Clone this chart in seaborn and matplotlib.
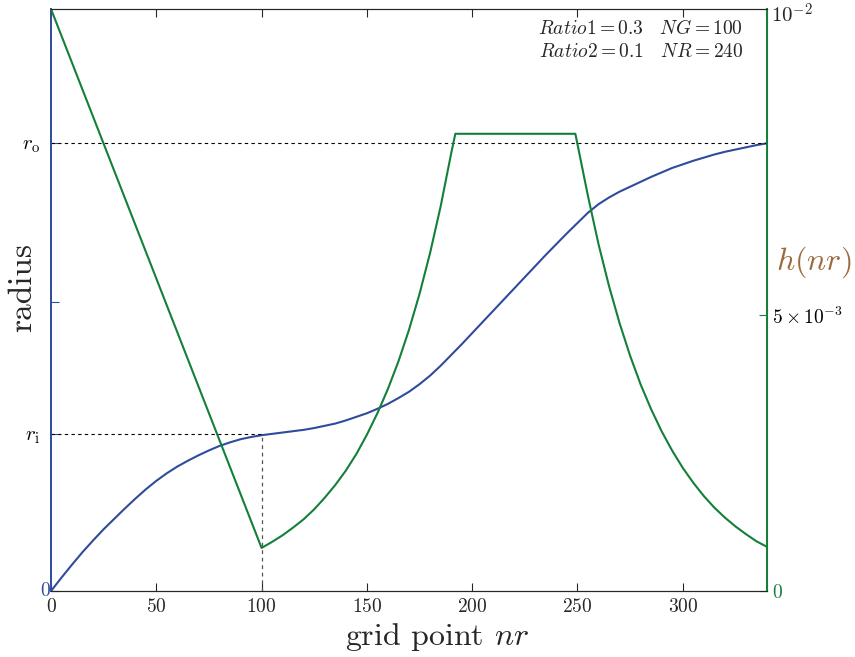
import numpy as np
import pandas as pd
import matplotlib
matplotlib.use("Agg")
import matplotlib.pyplot as plt
import seaborn as sns

# radius of grid point nr (r_o = 1)
nr_r = list(range(0, 341, 5))
radius = [0.000, 0.030, 0.059, 0.087, 0.113, 0.138, 0.161, 0.184, 0.206, 0.227,
          0.246, 0.263, 0.278, 0.291, 0.303, 0.314, 0.324, 0.332, 0.339, 0.344,
          0.348, 0.351, 0.354, 0.357, 0.360, 0.364, 0.369, 0.374, 0.381, 0.389,
          0.397, 0.407, 0.418, 0.431, 0.445, 0.462, 0.481, 0.503, 0.527, 0.551,
          0.576, 0.601, 0.626, 0.651, 0.676, 0.701, 0.726, 0.751, 0.775, 0.799,
          0.822, 0.845, 0.864, 0.879, 0.892, 0.903, 0.914, 0.925, 0.935, 0.945,
          0.953, 0.961, 0.968, 0.975, 0.981, 0.986, 0.991, 0.996, 1.000]

# step size h(nr)
nr_h = [0, 100, 105, 110, 115, 120, 125, 130, 135, 140, 145, 150, 155, 160,
        165, 170, 175, 180, 185, 190, 192, 249, 255, 260, 265, 270, 275, 280,
        285, 290, 295, 300, 305, 310, 315, 320, 325, 330, 335, 340]
h = [10.54e-3, 0.78e-3, 0.89e-3, 1.01e-3, 1.15e-3, 1.30e-3, 1.48e-3, 1.69e-3,
     1.92e-3, 2.18e-3, 2.48e-3, 2.83e-3, 3.22e-3, 3.66e-3, 4.16e-3, 4.73e-3,
     5.38e-3, 6.12e-3, 6.96e-3, 7.92e-3, 8.28e-3, 8.28e-3, 7.15e-3, 6.28e-3,
     5.52e-3, 4.85e-3, 4.26e-3, 3.74e-3, 3.29e-3, 2.89e-3, 2.54e-3, 2.23e-3,
     1.96e-3, 1.72e-3, 1.51e-3, 1.33e-3, 1.17e-3, 1.03e-3, 0.90e-3, 0.80e-3]

r_i, r_o = 0.35, 1.0
NR, NG = 240, 100

blue = "#2f4b9c"
green = "#13803a"
brown = "#9c6b3c"

sns.set_style("ticks")
plt.rcParams["font.family"] = ["cmr10", "DejaVu Serif"]
plt.rcParams["mathtext.fontset"] = "cm"
plt.rcParams["axes.unicode_minus"] = False
plt.rcParams["axes.formatter.use_mathtext"] = True

df_r = pd.DataFrame({"nr": nr_r, "radius": radius})
df_h = pd.DataFrame({"nr": nr_h, "h": h})

fig = plt.figure(figsize=(8.55, 6.57), dpi=100)
ax = fig.add_axes([51/855, 1-591/657, 716/855, 582/657])

sns.lineplot(data=df_r, x="nr", y="radius", ax=ax, color=blue, lw=1.5)
ax.plot([0, NR+NG], [r_o, r_o], ls="--", color="k", lw=0.8, dashes=(3, 3))
ax.plot([0, NG], [r_i, r_i], ls="--", color="k", lw=0.8, dashes=(3, 3))
ax.plot([NG, NG], [0, r_i], ls="--", color="#555555", lw=0.9, dashes=(3, 3))

ax.set_xlim(0, NR+NG)
ax.set_ylim(0, 1.3)
ax.set_xticks(range(0, 301, 50))
ax.set_yticks([0, r_i, 0.645, r_o])
ax.set_yticklabels(["", r"$r_\mathrm{i}$", "", r"$r_\mathrm{o}$"])
ax.tick_params(direction="in", length=6, width=0.8, top=True)
ax.tick_params(axis="x", labelsize=14, pad=5)
ax.tick_params(axis="y", colors=blue, labelcolor="k", labelsize=15, pad=8)
# the blue "0" sits close to the spine
ax.text(-0.002, 0.0, "0", transform=ax.transAxes, fontsize=14, color=blue,
        ha="right", va="center")
ax.spines["left"].set_color(blue)
ax.spines["left"].set_linewidth(1.4)
ax.set_xlabel(r"grid point $nr$", fontsize=23)
ax.xaxis.set_label_coords(0.539, -0.052)
ax.set_ylabel("radius", fontsize=24)
ax.yaxis.set_label_coords(-0.0196, 0.522)

ax2 = ax.twinx()
sns.lineplot(data=df_h, x="nr", y="h", ax=ax2, color=green, lw=1.5)
ax2.set_xlim(0, NR+NG)
ax2.set_ylim(0, 10.54e-3)
ax2.set_yticks([0, 5e-3])
ax2.set_yticklabels(["0", r"$5\times10^{-3}$"])
ax2.tick_params(axis="y", direction="in", length=6, width=0.8, colors=green,
                labelsize=14)
ax2.get_yticklabels()[1].set_color("k")
ax2.get_yticklabels()[0].set_color(green)
ax2.spines["right"].set_color(green)
ax2.spines["right"].set_linewidth(1.4)
ax2.spines["left"].set_visible(False)
ax2.set_ylabel("")
ax2.text(1.006, 0.99, r"$10^{-2}$", transform=ax2.transAxes, fontsize=15,
         va="center", ha="left")
ax2.text(1.012, 0.565, r"$h(nr)$", transform=ax2.transAxes, fontsize=23,
         color=brown, va="center", ha="left")

ax.text(0.967, 0.982, r"$Ratio1=0.3\quad NG=100$" + "\n" + r"$Ratio2=0.1\quad NR=240$",
        transform=ax.transAxes, fontsize=14, ha="right", va="top",
        linespacing=1.3)

fig.savefig("out.png", dpi=100)
